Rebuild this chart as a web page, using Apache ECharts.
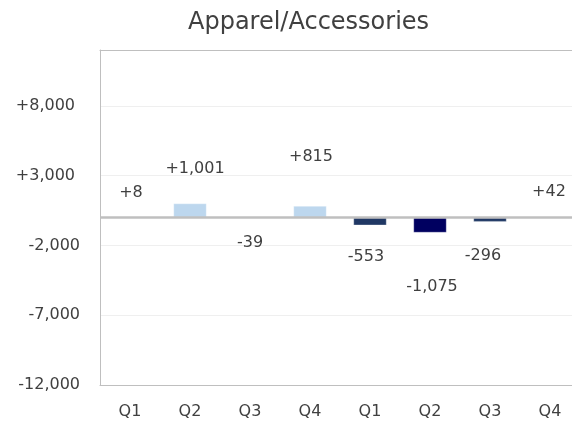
<!DOCTYPE html>
<html>
<head>
<meta charset="utf-8">
<script src="https://cdn.jsdelivr.net/npm/echarts@6/dist/echarts.min.js"></script>
<style>
  html, body { margin: 0; padding: 0; background: #fff; }
  #chart { width: 572px; height: 426px; }
</style>
</head>
<body>
<div id="chart"></div>
<script>
// Quarterly change, two consecutive years
const categories = ['Q1', 'Q2', 'Q3', 'Q4', 'Q1', 'Q2', 'Q3', 'Q4'];
const changes = [8, 1001, -39, 815, -553, -1075, -296, 42];
const yTicks = { min: -12000, max: 12000, step: 5000 };

// Bar fills and label nudges (pixels) per bar
const barColors = ['#bdd7ee', '#bdd7ee', '#203864', '#bdd7ee', '#203864', '#000060', '#203864', '#bdd7ee'];
const labelNudge = [[1, -16], [5, -27], [0, 17], [1, -41], [-4, 24], [2, 46], [-7, 26], [-1, -17]];

const FONT = 'DejaVu Sans';
const TEXT = '#404040';
const FRAME = '#bfbfbf';

function signed(v) {
  const s = Math.abs(v).toLocaleString('en-US');
  return (v > 0 ? '+' : v < 0 ? '-' : '') + s;
}

const chart = echarts.init(document.getElementById('chart'), null, { renderer: 'canvas' });

chart.setOption({
  animation: false,
  backgroundColor: '#ffffff',
  title: {
    text: 'Apparel/Accessories',
    left: 183,
    top: 6,
    textStyle: { fontFamily: FONT, fontSize: 24, fontWeight: 'normal', color: TEXT }
  },
  grid: {
    left: 100, top: 50, right: -8, bottom: 41,
    outerBoundsMode: 'none',
    show: false
  },
  xAxis: [{
    type: 'category',
    data: categories,
    position: 'bottom',
    axisLine: { show: true, onZero: false, lineStyle: { color: FRAME, width: 1 } },
    axisTick: { show: false },
    axisLabel: { margin: 19, fontFamily: FONT, fontSize: 16, color: TEXT }
  }, {
    // plain frame line along the top edge
    type: 'category',
    data: categories,
    position: 'top',
    axisLine: { show: true, onZero: false, lineStyle: { color: FRAME, width: 1 } },
    axisTick: { show: false },
    axisLabel: { show: false },
    splitLine: { show: false }
  }],
  yAxis: {
    type: 'value',
    min: yTicks.min,
    max: yTicks.max,
    interval: yTicks.step,
    axisLine: { show: true, lineStyle: { color: FRAME, width: 1 } },
    axisTick: { show: false },
    splitLine: { show: true, lineStyle: { color: '#efefef', width: 1 } },
    axisLabel: {
      showMaxLabel: false,
      margin: 20,
      fontFamily: FONT, fontSize: 16, color: TEXT,
      formatter: function (v) {
        return v > 0 ? '{p|' + signed(v) + '}' : '{n|' + signed(v) + '}';
      },
      rich: {
        p: { fontFamily: FONT, fontSize: 16, color: TEXT, padding: [0, 5, 0, 0] },
        n: { fontFamily: FONT, fontSize: 16, color: TEXT }
      }
    }
  },
  series: [{
    type: 'bar',
    barWidth: '55%',
    data: changes.map(function (v, i) {
      return {
        value: v,
        itemStyle: { color: barColors[i], borderColor: 'rgba(255,255,255,0.6)', borderWidth: 0.5 },
        label: {
          show: true,
          position: v >= 0 ? 'top' : 'bottom',
          distance: 0,
          offset: labelNudge[i],
          lineHeight: 16,
          fontFamily: FONT, fontSize: 16, color: TEXT,
          formatter: function () { return signed(v); }
        }
      };
    }),
    markLine: {
      silent: true,
      symbol: 'none',
      label: { show: false },
      lineStyle: { color: FRAME, width: 2.5, type: 'solid' },
      data: [{ yAxis: 0 }]
    },
    z: 2
  }]
});
</script>
</body>
</html>
